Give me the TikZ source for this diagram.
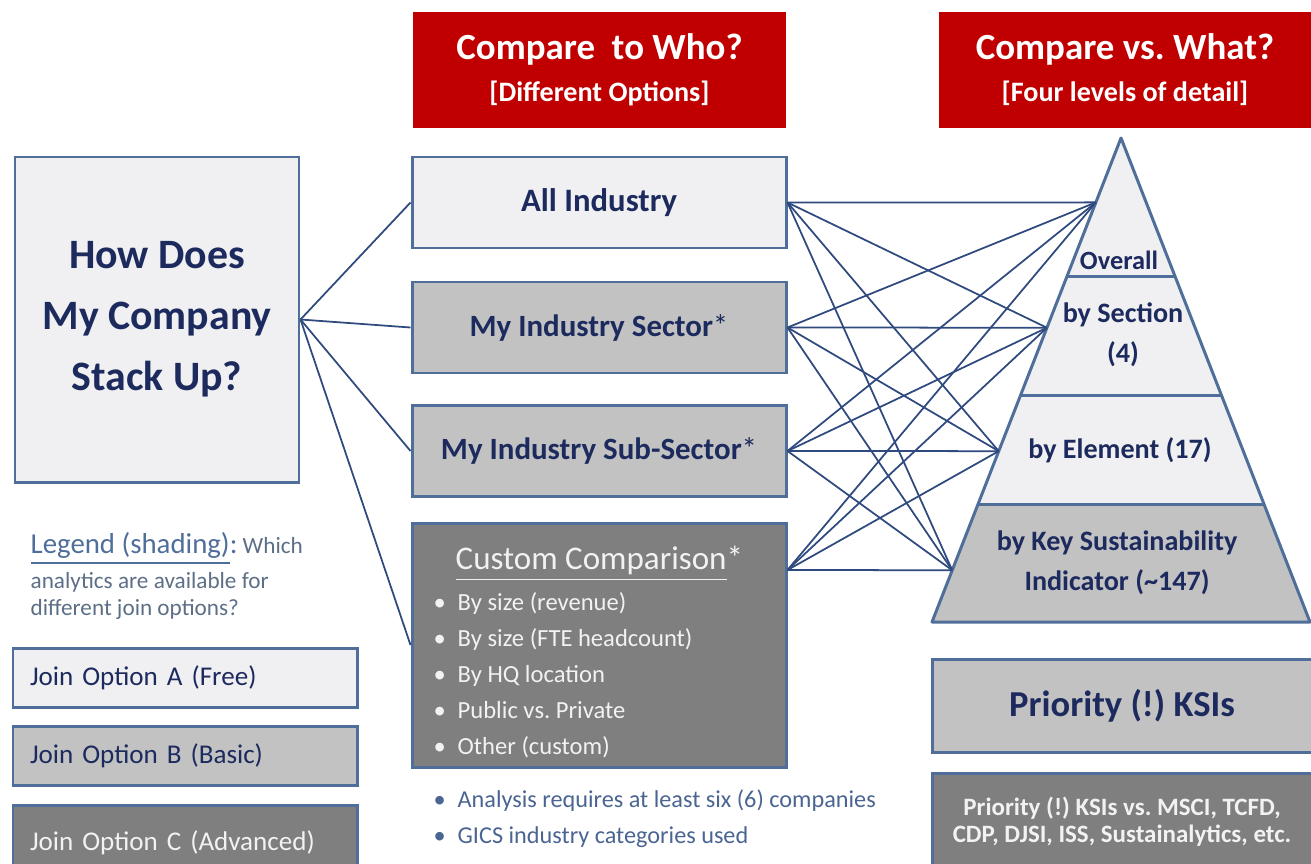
\documentclass[tikz,border=0pt]{standalone}
\usepackage{fontspec}
\setmainfont{Carlito}
\usetikzlibrary{calc}
\frenchspacing

\definecolor{navy}{HTML}{1C2A5E}
\definecolor{edge}{HTML}{4F6E99}
\definecolor{wire}{HTML}{2F4A7E}
\definecolor{headred}{HTML}{C00000}
\definecolor{palefill}{HTML}{F0F0F2}
\definecolor{midfill}{HTML}{C2C2C2}
\definecolor{darkfill}{HTML}{7F7F7F}
\definecolor{paletext}{HTML}{F2F2F2}
\definecolor{notetext}{HTML}{4A6592}
\definecolor{legtext}{HTML}{5C6F86}

\newcommand{\fsz}[2]{\fontsize{#1}{#2}\selectfont}

\begin{document}
\begin{tikzpicture}[
  box/.style={draw=edge, line width=0.85pt, inner sep=0pt, text=navy, font=\bfseries},
  head/.style={fill=headred, inner sep=0pt, text=white, align=center, minimum height=1.16cm},
  optbox/.style={box, minimum width=3.74cm, minimum height=0.91cm, font=\fsz{8.8}{10}\bfseries},
  legbox/.style={box, font=\fsz{7.7}{9}, minimum height=0.59cm, text width=3.10cm, inner xsep=0.17cm, align=left},
  link/.style={wire, line width=0.5pt},
  level/.style={text=navy, font=\fsz{8}{11.4}\bfseries, align=center},
]
\useasboundingbox (0,0) rectangle (13.11,-8.63);

% --- Red headers ---
\node[head, minimum width=3.73cm] (who) at (5.995,-0.70)
  {\fsz{10.5}{14.2}\bfseries Compare\ \ to Who?\\\fsz{8}{14.2}\bfseries [Different Options]};
\node[head, minimum width=3.72cm] (what) at (11.25,-0.70)
  {\fsz{10.5}{14.2}\bfseries Compare vs. What?\\\fsz{8}{14.2}\bfseries [Four levels of detail]};

% --- Question box ---
\node[box, fill=palefill, minimum width=2.84cm, minimum height=3.25cm, align=center,
  font=\fsz{11.9}{17.4}\bfseries] (stack) at (1.57,-3.195) {How Does\\My Company\\Stack Up?};

% --- Comparison groups ---
\node[optbox, fill=palefill, font=\fsz{9.3}{10}\bfseries] (allind) at (5.99,-2.025) {All Industry};
\node[optbox, fill=midfill] (sector) at (5.99,-3.275) {My Industry Sector{\mdseries*}};
\node[optbox, fill=midfill] (subsector) at (5.99,-4.51) {My Industry Sub-Sector{\mdseries*}};
\node[box, fill=darkfill, minimum width=3.74cm, minimum height=2.44cm] (custom) at (5.99,-6.45) {};

\node[anchor=base west, inner sep=0pt, text=paletext, font=\fsz{9.4}{11}] (ctitle) at (4.55,-5.69)
  {\underline{Custom Comparison}*};
\foreach \t [count=\i] in {By size (revenue), By size (FTE headcount), By HQ location,
    Public vs. Private, Other (custom)}
  \node[anchor=base west, inner sep=0pt, text=paletext, font=\fsz{7}{9}] (item\i)
    at (4.33,{-6.10-0.36*(\i-1)}) {\makebox[0.24cm][l]{•}\t};

% notes under the custom box
\foreach \t [count=\i] in {Analysis requires at least six (6) companies, GICS industry categories used}
  \node[anchor=base west, inner sep=0pt, text=notetext, font=\fsz{6.9}{9}] (note\i)
    at (4.33,{-8.07-0.36*(\i-1)}) {\makebox[0.24cm][l]{•}\t};

% --- Legend ---
\node[anchor=base west, inner sep=0pt, text=legtext, font=\fsz{6.6}{8}] (leg1) at (0.30,-5.53)
  {{\fsz{8.2}{9}\color{edge}\underline{Legend (shading)}:} Which};
\node[anchor=base west, inner sep=0pt, text=legtext, font=\fsz{6.6}{8}] (leg2) at (0.30,-5.88)
  {analytics are available for};
\node[anchor=base west, inner sep=0pt, text=legtext, font=\fsz{6.6}{8}] (leg3) at (0.30,-6.15)
  {different join options?};

\node[legbox, fill=palefill] (optA) at (1.85,-6.775) {Join Option A (Free)};
\node[legbox, fill=midfill] (optB) at (1.85,-7.56) {Join Option B (Basic)};
\node[legbox, fill=darkfill, text=paletext, minimum height=0.76cm] (optC) at (1.85,-8.43)
  {Join Option C (Advanced)};

% --- Pyramid ---
\coordinate (apex) at (11.21,-1.38);
\coordinate (bl) at (9.32,-6.22);
\coordinate (br) at (13.10,-6.22);
\fill[palefill] (apex) -- (bl) -- (br) -- cycle;
\fill[midfill] ($(apex)!0.758!(bl)$) -- (bl) -- (br) -- ($(apex)!0.758!(br)$) -- cycle;
\foreach \t in {0.287,0.531,0.758}
  \draw[edge, line width=0.85pt] ($(apex)!\t!(bl)$) -- ($(apex)!\t!(br)$);
\draw[edge, line width=0.85pt, line join=round] (apex) -- (bl) -- (br) -- cycle;

\node[level, font=\fsz{7.5}{9}\bfseries] (overall) at (11.19,-2.60) {Overall};
\node[level] (bysection) at (11.23,-3.35) {by Section\\(4)};
\node[level] (byelement) at (11.20,-4.50) {by Element (17)};
\node[level] (byksi) at (11.17,-5.63) {by Key Sustainability\\Indicator (\textasciitilde147)};

% --- Connectors ---
\coordinate (q1) at (allind.east);
\coordinate (q2) at (sector.east);
\coordinate (q3) at (subsector.east);
\coordinate (q4) at ([yshift=0.75cm]custom.east);
\coordinate (p1) at ($(apex)!0.133!(bl)$);
\coordinate (p2) at ($(apex)!0.392!(bl)$);
\coordinate (p3) at ($(apex)!0.647!(bl)$);
\coordinate (p4) at ($(apex)!0.893!(bl)$);

\foreach \b in {allind,sector,subsector,custom}
  \draw[link] (stack.east) -- (\b.west);
\foreach \a in {1,...,4}
  \foreach \b in {1,...,4}
    \draw[link] (q\a) -- (p\b);

% --- Priority KSI boxes ---
\node[box, fill=midfill, minimum width=3.80cm, minimum height=0.93cm, font=\fsz{10.4}{12}\bfseries]
  (prio) at (11.22,-7.055) {Priority (!) KSIs};
\node[box, fill=darkfill, text=paletext, minimum width=3.80cm, minimum height=0.97cm, align=center,
  font=\fsz{7.1}{7.8}\bfseries] (bench) at (11.22,-8.215)
  {Priority (!) KSIs vs. MSCI, TCFD,\\CDP, DJSI, ISS, Sustainalytics, etc.};

\end{tikzpicture}
\end{document}
